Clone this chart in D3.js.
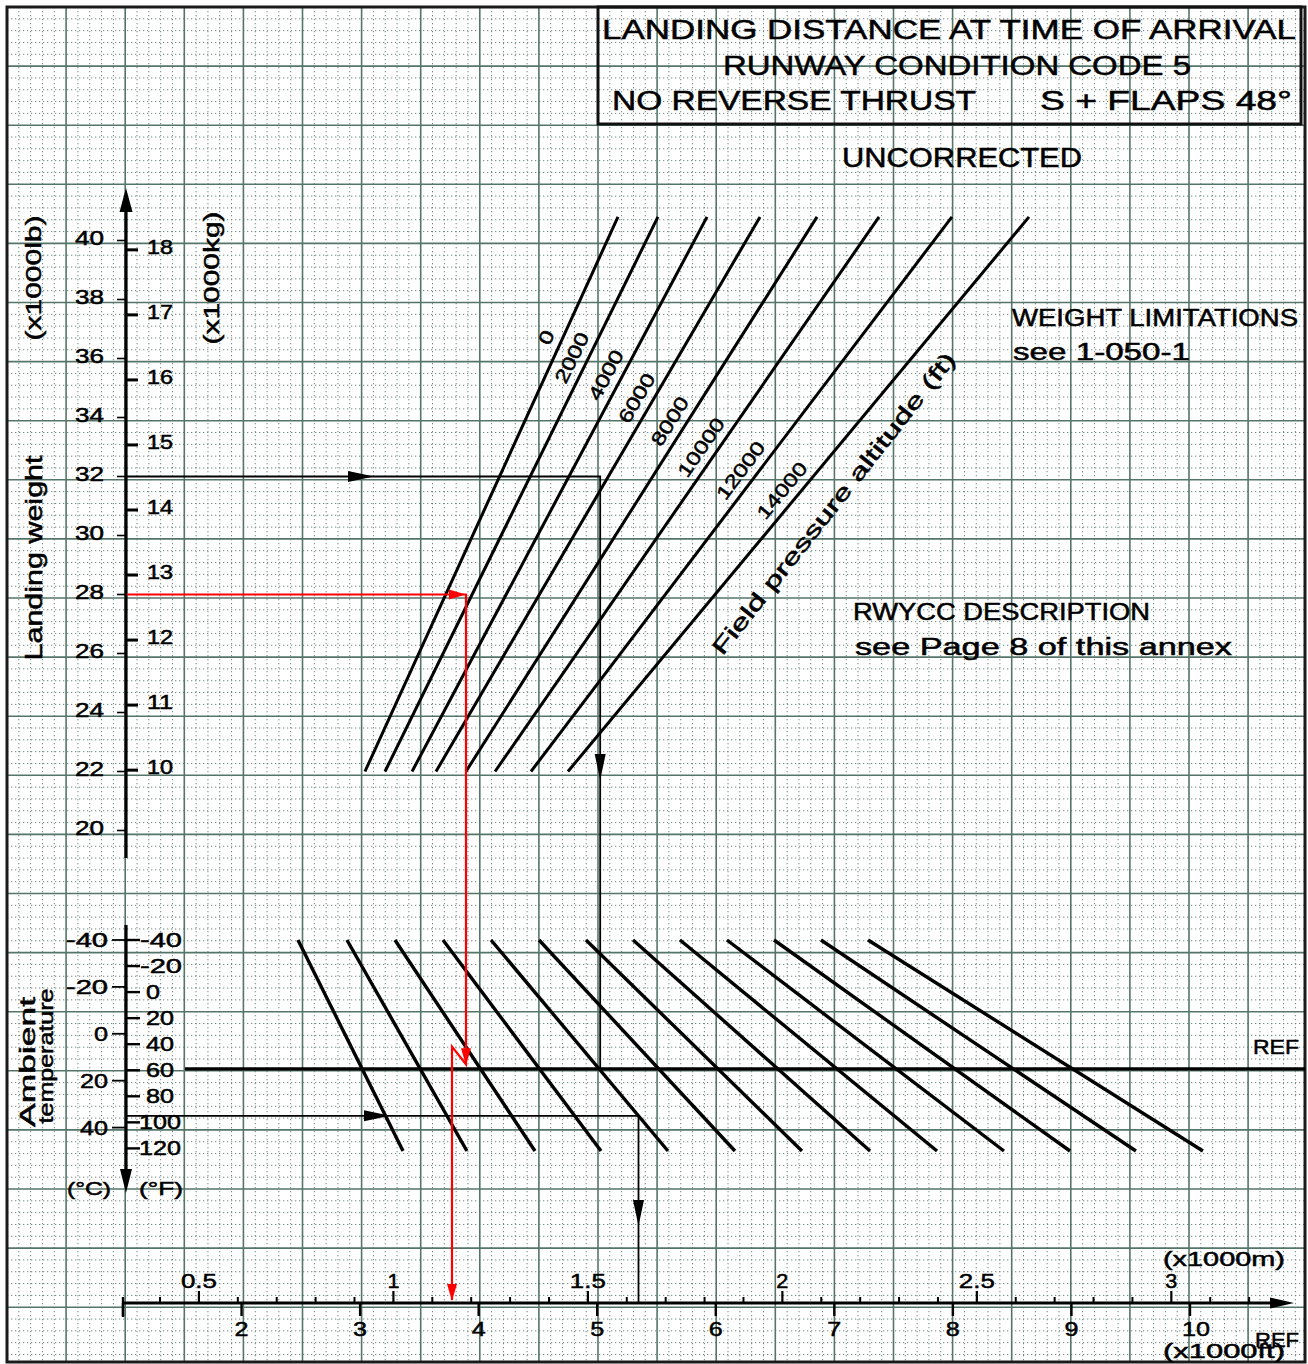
<!DOCTYPE html>
<html><head><meta charset="utf-8">
<script src="https://cdn.jsdelivr.net/npm/d3@7"></script>
<style>body{margin:0;background:#fff}svg{display:block}</style>
</head><body><svg id="c" width="1308" height="1364"></svg>
<script>
// ---------------- DATA ----------------
const altitudes = [0, 2000, 4000, 6000, 8000, 10000, 12000, 14000];
const altWeightRange = [22, 40.8];                     // x1000 lb, ends of each altitude line
const altDistAtLowWeight  = [3041, 3210, 3438, 3640, 3893, 4138, 4441, 4753];  // ft
const altDistAtHighWeight = [5175, 5512, 5926, 6373, 6854, 7377, 7992, 8642];  // ft

const refDistances = [3000, 3500, 4000, 4500, 5000, 5500, 6000, 6500, 7000, 7500, 8000, 8500, 9000];
const tempRange = [-40, 50];                           // deg C, ends of each guide line
const tempDistAtLowTemp  = [2476, 2889, 3294, 3699, 4104, 4509, 4905, 5302, 5698, 6094, 6491, 6887, 7284];
const tempDistAtHighTemp = [3362, 3901, 4475, 5032, 5597, 6162, 6727, 7301, 7866, 8431, 8988, 9544, 10109];
const refTemp = 15;

const lbTicks = [20, 22, 24, 26, 28, 30, 32, 34, 36, 38, 40];
const kgTicks = [10, 11, 12, 13, 14, 15, 16, 17, 18];
const cTicks = [-40, -20, 0, 20, 40];
const fTicks = [-40, -20, 0, 20, 40, 60, 80, 100, 120];
const ftTicks = [1, 2, 3, 4, 5, 6, 7, 8, 9, 10];          // x1000 ft
const mLabelTicks = [0.5, 1, 1.5, 2, 2.5, 3];             // x1000 m
const mMinorTicks = [0.4,0.5,0.6,0.7,0.8,0.9,1.0,1.1,1.2,1.3,1.4,1.5,1.6,1.7,1.8,1.9,2.0,2.1,2.2,2.3,2.4,2.5,2.6,2.7,2.8,2.9,3.0,3.1,3.2];

const exampleBlack = {weight: 32, dist: 5025, refLine: 4, temp: 35};
const exampleRed   = {weight: 28, dist: 3893, stopTemp: 13, temp: 5.5, corrected: 3775};

// ---------------- SCALES ----------------
const x = d3.scaleLinear().domain([1000, 10000]).range([123, 1190]);
const yW = d3.scaleLinear().domain([22, 40]).range([771.5, 240.5]);
const yT = d3.scaleLinear().domain([-40, 50]).range([940, 1151]);
const grid = d3.scaleLinear().domain([0, 1]).range([7, 66.1]);

const svg = d3.select("#c");
const FONT = "'Liberation Sans', Arial, sans-serif";
const AX = 126;          // x of the vertical axes
const AXIS_Y = 1303;     // y of the distance axis

svg.append("rect").attr("width", 1308).attr("height", 1364).attr("fill", "#fff");

// ---------------- GRID ----------------
const gGrid = svg.append("g");
const minorIdx = d3.range(0, 23, 0.2).filter(v => Math.abs(v - Math.round(v)) > 0.01);
gGrid.selectAll("line.vmin").data(minorIdx.filter(v => grid(v) < 1305)).join("line")
  .attr("x1", d => grid(d)).attr("x2", d => grid(d)).attr("y1", 7).attr("y2", 1362)
  .attr("stroke", "#6f877d").attr("stroke-width", 1).attr("stroke-dasharray", "1.3,2.7");
gGrid.selectAll("line.hmin").data(minorIdx.filter(v => grid(v) < 1362)).join("line")
  .attr("y1", d => grid(d)).attr("y2", d => grid(d)).attr("x1", 7).attr("x2", 1305)
  .attr("stroke", "#6f877d").attr("stroke-width", 1).attr("stroke-dasharray", "1.3,2.7");
const majIdx = d3.range(0, 24);
gGrid.selectAll("line.vmaj").data(majIdx.filter(v => grid(v) < 1305)).join("line")
  .attr("x1", d => grid(d)).attr("x2", d => grid(d)).attr("y1", 7).attr("y2", 1362)
  .attr("stroke", "#557568").attr("stroke-width", 1.6);
gGrid.selectAll("line.hmaj").data(majIdx.filter(v => grid(v) < 1362)).join("line")
  .attr("y1", d => grid(d)).attr("y2", d => grid(d)).attr("x1", 7).attr("x2", 1305)
  .attr("stroke", "#557568").attr("stroke-width", 1.6);
svg.append("rect").attr("x", 7).attr("y", 7).attr("width", 1298).attr("height", 1355)
  .attr("fill", "none").attr("stroke", "#1a1a1a").attr("stroke-width", 3);

// ---------------- helpers ----------------
function text(g, str, px, py, o = {}) {
  const t = g.append("text").attr("x", px).attr("y", py).text(str)
    .attr("font-family", FONT).attr("font-size", o.size || 20)
    .attr("font-weight", o.weight || "normal")
    .attr("text-anchor", o.anchor || "middle")
    .attr("dominant-baseline", "central").attr("fill", o.fill || "#000")
    .attr("stroke", "#000").attr("stroke-width", o.sw === undefined ? 0.5 : o.sw);
  if (o.len) t.attr("textLength", o.len).attr("lengthAdjust", "spacingAndGlyphs");
  if (o.rotate !== undefined) t.attr("transform", `rotate(${o.rotate},${px},${py})`);
  return t;
}
function arrow(g, tx, ty, angDeg, len, wid, color) {
  const a = angDeg * Math.PI / 180, c = Math.cos(a), s = Math.sin(a);
  const bx = tx - c * len, by = ty - s * len;
  const px = -s * wid / 2, py = c * wid / 2;
  g.append("path").attr("d", `M${tx},${ty}L${bx + px},${by + py}L${bx - px},${by - py}Z`)
    .attr("fill", color);
}
const line = d3.line();

// ---------------- TITLE ----------------
const gT = svg.append("g");
gT.append("rect").attr("x", 598).attr("y", 7).attr("width", 703).attr("height", 117)
  .attr("fill", "none").attr("stroke", "#111").attr("stroke-width", 3);
text(gT, "LANDING DISTANCE AT TIME OF ARRIVAL", 949, 30, {size: 27, len: 694});
text(gT, "RUNWAY CONDITION CODE 5", 957, 66, {size: 27, len: 468});
text(gT, "NO REVERSE THRUST", 612, 101, {size: 27, len: 364, anchor: "start"});
text(gT, "S + FLAPS 48°", 1040, 101, {size: 27, len: 252, anchor: "start"});
text(gT, "UNCORRECTED", 962, 158, {size: 27, len: 240});
text(gT, "WEIGHT LIMITATIONS", 1012, 318, {size: 23, len: 286, anchor: "start"});
text(gT, "see 1-050-1", 1013, 352, {size: 23, len: 177, anchor: "start"});
text(gT, "RWYCC DESCRIPTION", 853, 612, {size: 23, len: 297, anchor: "start"});
text(gT, "see Page 8 of this annex", 855, 647, {size: 23, len: 377, anchor: "start"});

// ---------------- WEIGHT AXIS ----------------
const gA = svg.append("g");
gA.append("line").attr("x1", AX).attr("x2", AX).attr("y1", 858).attr("y2", 200)
  .attr("stroke", "#000").attr("stroke-width", 3.2);
arrow(gA, AX, 188, -90, 24, 13, "#000");
gA.selectAll("line.lb").data(lbTicks).join("line")
  .attr("x1", 117).attr("x2", AX).attr("y1", d => yW(d)).attr("y2", d => yW(d))
  .attr("stroke", "#000").attr("stroke-width", 1.6);
lbTicks.forEach(v => text(gA, String(v), 104, yW(v) - 3, {size: 20, len: 29, anchor: "end"}));
kgTicks.forEach(v => {
  const yy = yW(v * 2.20462);
  gA.append("line").attr("x1", AX).attr("x2", 138).attr("y1", yy).attr("y2", yy)
    .attr("stroke", "#000").attr("stroke-width", 3);
  text(gA, String(v), 147, yy - 3, {size: 20, len: 26, anchor: "start"});
});
text(gA, "Landing weight", 33, 558, {size: 24, len: 205, rotate: -90});
text(gA, "(x1000lb)", 33, 278, {size: 22, len: 125, rotate: -90});
text(gA, "(x1000kg)", 211, 278, {size: 22, len: 133, rotate: -90});

// ---------------- ALTITUDE LINES ----------------
const gL = svg.append("g");
const altLabelWeights = [36.5, 35.8, 35.2, 34.4, 33.6, 32.7, 31.9, 31.2];
altitudes.forEach((alt, i) => {
  const p0 = [x(altDistAtLowWeight[i]), yW(altWeightRange[0])];
  const p1 = [x(altDistAtHighWeight[i]), yW(altWeightRange[1])];
  gL.append("path").attr("d", line([p0, p1])).attr("stroke", "#000")
    .attr("stroke-width", 3).attr("fill", "none");
  const dx = p1[0] - p0[0], dy = p1[1] - p0[1], L = Math.hypot(dx, dy);
  const ang = Math.atan2(dy, dx) * 180 / Math.PI;
  const w = altLabelWeights[i];
  const f = (w - altWeightRange[0]) / (altWeightRange[1] - altWeightRange[0]);
  const lx = p0[0] + dx * f + (dy / L) * 15, ly = p0[1] + dy * f + (-dx / L) * 15;
  text(gL, String(alt), lx, ly, {size: 19, len: String(alt).length * 13.5, rotate: ang});
  if (i === altitudes.length - 1) {
    const fw = (31.8 - altWeightRange[0]) / (altWeightRange[1] - altWeightRange[0]);
    const fx = p0[0] + dx * fw - (dy / L) * 33, fy = p0[1] + dy * fw + (dx / L) * 33;
    text(gL, "Field pressure altitude (ft)", fx, fy, {size: 22, len: 378, rotate: ang - 1.5});
  }
});

// ---------------- TEMPERATURE AXIS ----------------
const gTA = svg.append("g");
gTA.append("line").attr("x1", AX).attr("x2", AX).attr("y1", 925).attr("y2", 1180)
  .attr("stroke", "#000").attr("stroke-width", 3.2);
arrow(gTA, AX, 1193, 90, 24, 12, "#000");
cTicks.forEach(v => {
  gTA.append("line").attr("x1", 112).attr("x2", AX).attr("y1", yT(v)).attr("y2", yT(v))
    .attr("stroke", "#000").attr("stroke-width", 1.8);
  const s = String(v);
  text(gTA, s, 108, yT(v), {size: 20, len: s.length * 14, anchor: "end"});
});
fTicks.forEach(v => {
  const yy = yT((v - 32) * 5 / 9);
  gTA.append("line").attr("x1", AX).attr("x2", 140).attr("y1", yy).attr("y2", yy)
    .attr("stroke", "#000").attr("stroke-width", 2.4);
  const s = String(v);
  const startX = v < 0 ? 140 : (v >= 100 ? 139 : 146);
  text(gTA, s, startX, yy, {size: 20, len: s.length * 14, anchor: "start"});
});
text(gTA, "(°C)", 89, 1188, {size: 19, len: 44});
text(gTA, "(°F)", 161, 1188, {size: 19, len: 44});
text(gTA, "Ambient", 27, 1062, {size: 22, len: 130, rotate: -90});
text(gTA, "temperature", 46, 1056, {size: 20, len: 135, rotate: -90});

// REF line
svg.append("line").attr("x1", 185).attr("x2", 1305).attr("y1", yT(refTemp)).attr("y2", yT(refTemp))
  .attr("stroke", "#000").attr("stroke-width", 3.2);
text(svg, "REF", 1276, yT(refTemp) - 22, {size: 20, len: 46});

// ---------------- TEMPERATURE GUIDE LINES ----------------
const gG = svg.append("g");
refDistances.forEach((d, k) => {
  gG.append("path").attr("d", line([[x(tempDistAtLowTemp[k]), yT(tempRange[0])],
                                    [x(tempDistAtHighTemp[k]), yT(tempRange[1])]]))
    .attr("stroke", "#000").attr("stroke-width", 3.4).attr("fill", "none");
});

// ---------------- DISTANCE AXIS ----------------
const gX = svg.append("g");
gX.append("line").attr("x1", 123).attr("x2", 1275).attr("y1", AXIS_Y).attr("y2", AXIS_Y)
  .attr("stroke", "#000").attr("stroke-width", 3.2);
arrow(gX, 1294, AXIS_Y, 0, 24, 11, "#000");
ftTicks.forEach(v => {
  const xx = x(v * 1000);
  gX.append("line").attr("x1", xx).attr("x2", xx).attr("y1", AXIS_Y).attr("y2", AXIS_Y + 13)
    .attr("stroke", "#000").attr("stroke-width", 2.4);
  if (v > 1) text(gX, String(v), xx + (v === 10 ? 6 : 0), 1328, {size: 21, len: String(v).length * 14});
});
gX.append("line").attr("x1", 123).attr("x2", 123).attr("y1", AXIS_Y - 6).attr("y2", AXIS_Y + 14)
  .attr("stroke", "#000").attr("stroke-width", 2.4);
mMinorTicks.forEach(v => {
  const xx = x(v * 1000 * 3.28084);
  const major = mLabelTicks.some(m => Math.abs(m - v) < 1e-6);
  gX.append("line").attr("x1", xx).attr("x2", xx).attr("y1", AXIS_Y).attr("y2", AXIS_Y - (major ? 12 : 6))
    .attr("stroke", "#000").attr("stroke-width", major ? 2.2 : 2);
});
mLabelTicks.forEach(v => {
  const xx = x(v * 1000 * 3.28084);
  const s = String(v);
  text(gX, s, xx, 1281, {size: 20, len: s.length * 12});
});
text(gX, "(x1000m)", 1224, 1258, {size: 21, len: 122});
text(gX, "(x1000ft)", 1224, 1350, {size: 21, len: 122});
text(gX, "REF", 1277, 1340, {size: 20, len: 44});

// ---------------- BLACK EXAMPLE ----------------
const gE = svg.append("g");
const kB = exampleBlack.refLine;
const guideX = t => x(tempDistAtLowTemp[kB] + (tempDistAtHighTemp[kB] - tempDistAtLowTemp[kB]) *
  (t - tempRange[0]) / (tempRange[1] - tempRange[0]));
const bx = x(exampleBlack.dist), by = yW(exampleBlack.weight);
gE.append("path").attr("d", line([[AX, by], [bx, by], [bx, yT(refTemp)]]))
  .attr("stroke", "#000").attr("stroke-width", 1.8).attr("fill", "none");
arrow(gE, 374, by, 0, 26, 11, "#000");
arrow(gE, bx, 780, 90, 26, 11, "#000");
const cx = guideX(exampleBlack.temp), cy = yT(exampleBlack.temp);
gE.append("path").attr("d", line([[AX, cy], [cx, cy], [cx, AXIS_Y]]))
  .attr("stroke", "#000").attr("stroke-width", 1.8).attr("fill", "none");
arrow(gE, 390, cy, 0, 26, 11, "#000");
arrow(gE, cx, 1226, 90, 26, 11, "#000");

// ---------------- RED EXAMPLE ----------------
const gR = svg.append("g");
const RED = "#f00";
const rx = x(exampleRed.dist), ry = yW(exampleRed.weight);
gR.append("path").attr("d", line([[AX + 1, ry], [rx, ry], [rx, yT(exampleRed.stopTemp)],
  [x(exampleRed.corrected), yT(exampleRed.temp)], [x(exampleRed.corrected), AXIS_Y - 3]]))
  .attr("stroke", RED).attr("stroke-width", 2.2).attr("fill", "none");
arrow(gR, rx, ry, 0, 17, 10, RED);
arrow(gR, rx, yT(exampleRed.stopTemp) + 1, 90, 17, 10, RED);
arrow(gR, x(exampleRed.corrected), AXIS_Y - 2, 90, 17, 10, RED);
</script></body></html>
